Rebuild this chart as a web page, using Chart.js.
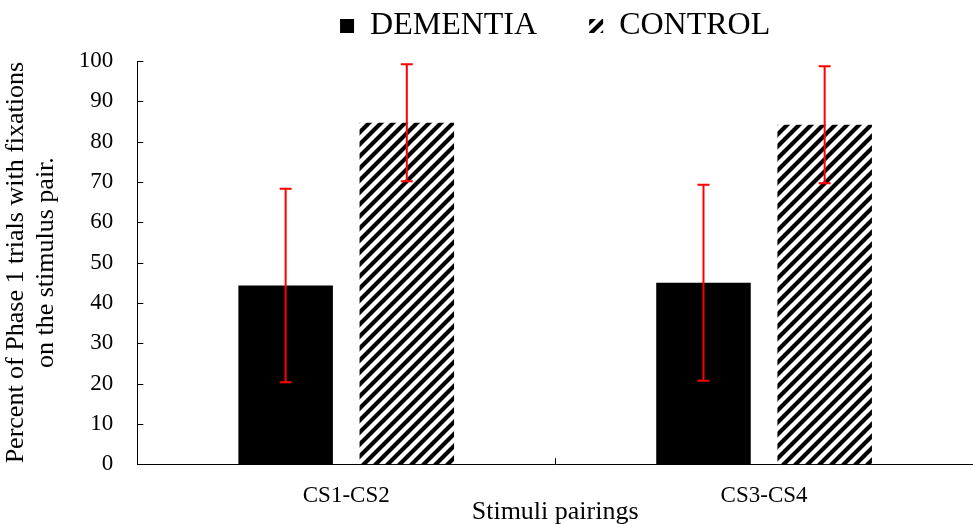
<!DOCTYPE html>
<html>
<head>
<meta charset="utf-8">
<script src="https://cdn.jsdelivr.net/npm/chart.js@4"></script>
<style>
  html, body { margin: 0; padding: 0; background: #fff; }
  #wrap { width: 973px; height: 524px; position: relative; }
</style>
</head>
<body>
<div id="wrap"><canvas id="chart"></canvas></div>
<script>
// Dados
const categorias = ["CS1-CS2", "CS3-CS4"];
const dementia = [44.3, 45.0];
const dementiaErro = [24.0, 24.3];
const control = [84.7, 84.2];
const controlErro = [14.5, 14.5];

const fonte = "'Liberation Serif', 'Times New Roman', serif";

// Padrão listrado para CONTROL
const criarHachura = () => {
  const s = 12;
  const c = document.createElement("canvas");
  c.width = s;
  c.height = s;
  const g = c.getContext("2d");
  g.fillStyle = "#fff";
  g.fillRect(0, 0, s, s);
  g.strokeStyle = "#000";
  g.lineWidth = 4.2;
  g.beginPath();
  g.moveTo(-2, s + 2); g.lineTo(s + 2, -2);
  g.moveTo(-2, 2); g.lineTo(2, -2);
  g.moveTo(s - 2, s + 2); g.lineTo(s + 2, s - 2);
  g.stroke();
  return g.createPattern(c, "repeat");
};
const hachura = criarHachura();

// Espaço extra abaixo da legenda
const legendaMargem = {
  id: "legendaMargem",
  beforeLayout(chart) {
    const lg = chart.legend;
    if (lg && !lg._margem) {
      const fit = lg.fit;
      lg.fit = function () {
        fit.call(this);
        this.height += 9;
      };
      lg._margem = true;
    }
  }
};

// Barras de erro + ticks internos
const errorBars = {
  id: "errorBars",
  afterDatasetsDraw(chart) {
    const ctx = chart.ctx;
    const y = chart.scales.y;
    const x = chart.scales.x;
    const erros = [dementiaErro, controlErro];
    ctx.save();
    ctx.strokeStyle = "#ff0000";
    ctx.lineWidth = 2;
    chart.data.datasets.forEach((ds, i) => {
      const meta = chart.getDatasetMeta(i);
      meta.data.forEach((bar, j) => {
        const v = ds.data[j];
        const e = erros[i][j];
        const top = y.getPixelForValue(v + e);
        const bot = y.getPixelForValue(v - e);
        ctx.beginPath();
        ctx.moveTo(bar.x, top); ctx.lineTo(bar.x, bot);
        ctx.moveTo(bar.x - 6, top); ctx.lineTo(bar.x + 6, top);
        ctx.moveTo(bar.x - 6, bot); ctx.lineTo(bar.x + 6, bot);
        ctx.stroke();
      });
    });
    ctx.strokeStyle = "#000";
    ctx.lineWidth = 1;
    ctx.beginPath();
    // tick entre categorias
    const meio = Math.round((x.getPixelForValue(0) + x.getPixelForValue(1)) / 2) + 0.5;
    ctx.moveTo(meio, y.bottom);
    ctx.lineTo(meio, y.bottom - 6);
    // ticks do eixo y para dentro
    y.ticks.forEach((t) => {
      const py = Math.round(y.getPixelForValue(t.value)) + 0.5;
      ctx.moveTo(x.left, py);
      ctx.lineTo(x.left + 6, py);
    });
    ctx.stroke();
    ctx.restore();
  }
};

new Chart(document.querySelector("#chart"), {
  type: "bar",
  data: {
    labels: categorias,
    datasets: [
      { label: "DEMENTIA", data: dementia, backgroundColor: "#000", borderWidth: 0 },
      { label: "CONTROL", data: control, backgroundColor: hachura, borderWidth: 0 }
    ]
  },
  options: {
    responsive: true,
    maintainAspectRatio: false,
    animation: false,
    categoryPercentage: 0.58,
    barPercentage: 0.78,
    layout: { padding: { top: -10, right: 0, bottom: 0, left: 1 } },
    plugins: {
      tooltip: { enabled: false },
      legend: {
        position: "top",
        fullSize: false,
        labels: {
          color: "#000",
          font: { family: fonte, size: 32 },
          boxWidth: 14,
          boxHeight: 14,
          padding: 20,
          generateLabels(chart) {
            const itens = Chart.defaults.plugins.legend.labels.generateLabels(chart);
            itens[0].text = itens[0].text + "    ";
            return itens;
          }
        }
      }
    },
    scales: {
      x: {
        grid: { display: false },
        border: { color: "#000", width: 1 },
        ticks: { color: "#000", font: { family: fonte, size: 23 }, padding: 10 },
        title: {
          display: true,
          text: "Stimuli pairings",
          color: "#000",
          font: { family: fonte, size: 26 },
          padding: { top: -23, bottom: -4 }
        }
      },
      y: {
        min: 0,
        max: 100,
        ticks: { stepSize: 10, color: "#000", font: { family: fonte, size: 23 }, padding: 16 },
        grid: { display: false },
        border: { color: "#000", width: 1 },
        title: {
          display: true,
          text: ["Percent of Phase 1 trials with fixations", "on the stimulus pair."],
          color: "#000",
          font: { family: fonte, size: 26, lineHeight: 1.15 },
          padding: { top: 0, bottom: 2 }
        }
      }
    }
  },
  plugins: [legendaMargem, errorBars]
});
</script>
</body>
</html>
